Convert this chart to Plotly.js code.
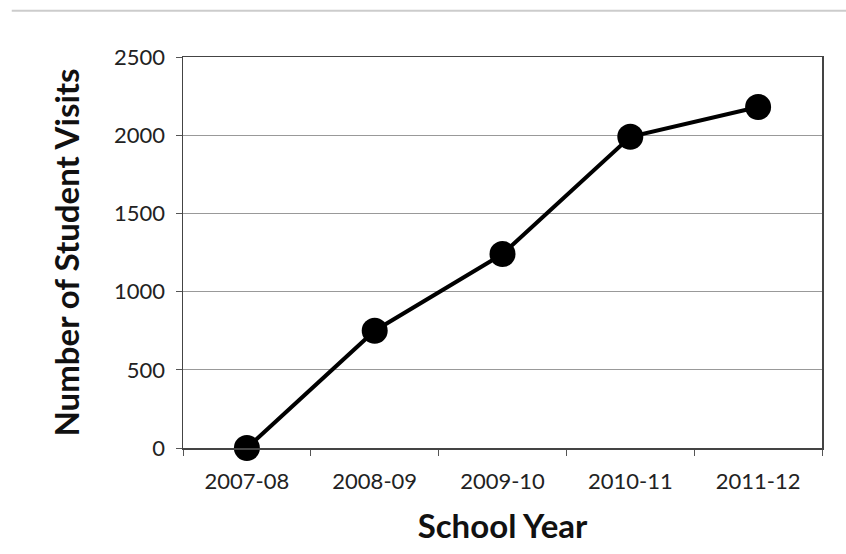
<!DOCTYPE html>
<html>
<head>
<meta charset="utf-8">
<script src="https://cdn.plot.ly/plotly-3.0.1.min.js"></script>
<style>html,body{margin:0;padding:0;background:#fff;}#chart{width:846px;height:554px;}</style>
</head>
<body>
<div id="chart"></div>
<script>
var years = ["2007-08", "2008-09", "2009-10", "2010-11", "2011-12"];
var visits = [0, 750, 1240, 1990, 2180];
var yTicks = [0, 500, 1000, 1500, 2000, 2500];

var trace = {
  x: years, y: visits, type: 'scatter', mode: 'lines+markers',
  line: {color: '#000', width: 4},
  marker: {color: '#000', size: 26},
  cliponaxis: false,
  hoverinfo: 'none'
};

var layout = {
  width: 846, height: 554,
  margin: {l: 183, r: 24, t: 57, b: 106},
  paper_bgcolor: '#fff', plot_bgcolor: '#fff',
  showlegend: false,
  font: {family: 'Lato, "Open Sans", sans-serif', color: '#222'},
  xaxis: {
    type: 'category', range: [-0.5, 4.5],
    tickson: 'boundaries', ticks: 'outside', ticklen: 6, tickcolor: '#555',
    showline: true, linecolor: '#444', linewidth: 1.5, mirror: true,
    showgrid: false, zeroline: false,
    tickfont: {size: 22, color: '#222'}, ticklabelstandoff: 13,
    title: {text: '<b>School Year</b>', font: {size: 33, color: '#111'}, standoff: 22}
  },
  yaxis: {
    range: [0, 2500], tickvals: yTicks, ticktext: yTicks.map(String),
    ticks: 'outside', ticklen: 6, tickcolor: '#555',
    showline: true, linecolor: '#444', linewidth: 1.5, mirror: true,
    showgrid: true, gridcolor: '#999', gridwidth: 1, zeroline: false,
    tickfont: {size: 22, color: '#222'}, ticklabelstandoff: 6,
    title: {text: '<b>Number of Student Visits</b>', font: {size: 33, color: '#111'}, standoff: 24}
  },
  shapes: [{type: 'line', xref: 'paper', yref: 'paper', x0: -0.268, x1: 1.04, y0: 1.118, y1: 1.118,
            line: {color: '#ccc', width: 2}}]
};

Plotly.newPlot('chart', [trace], layout, {staticPlot: true});
</script>
</body>
</html>
